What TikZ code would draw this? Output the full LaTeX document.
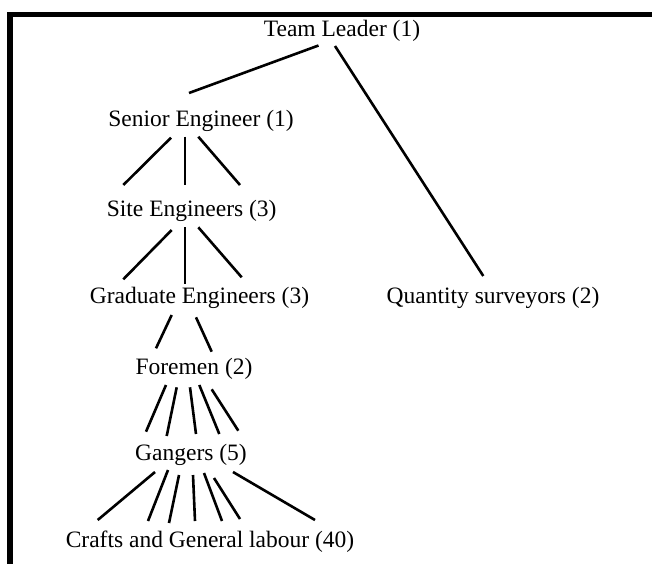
\documentclass[tikz,border=0pt]{standalone}
\usepackage{fontspec}
\setmainfont{Liberation Serif}
\usetikzlibrary{calc}

\tikzset{
  rank/.style={inner sep=0pt, anchor=base, font=\fontsize{23.5}{28}\selectfont},
  tie/.style={line width=2.6pt},
  frame/.style={line width=5.3pt, miter limit=10}
}

\begin{document}
\begin{tikzpicture}[x=1pt, y=-1pt]
                \useasboundingbox (0, 0) rectangle (652, 563);
                % Frame
                \draw [frame] (10, 570) -- (10, 14.7) -- (660, 14.7);
                % Staff
                \node [rank] (leader) at (342, 36) {Team Leader (1)};
                \node [rank] (senior) at (201, 126.7) {Senior Engineer (1)};
                \node [rank] (site) at (191.7, 216.7) {Site Engineers (3)};
                \node [rank] (grad) at (199.5, 303) {Graduate Engineers (3)};
                \node [rank] (qs) at (493, 303.3) {Quantity surveyors (2)};
                \node [rank] (foremen) at (194, 374) {Foremen (2)};
                \node [rank] (gangers) at (191, 460) {Gangers (5)};
                \node [rank] (crafts) at (210, 547) {Crafts and General labour (40)};
                % Team Leader
                \draw [tie] ($(leader.base)+(-23.5, 9.5)$) -- ($(senior.base)+(-12, -33.7)$);
                \draw [tie] ($(leader.base)+(-7, 10)$) -- ($(qs.base)+(-9.7, -27.3)$);
                % Senior Engineer
                \draw [tie] ($(senior.base)+(-30, 11)$) -- ($(site.base)+(-68.4, -31.7)$);
                \draw [tie] ($(senior.base)+(-16, 10)$) -- ($(site.base)+(-6.7, -31.7)$);
                \draw [tie] ($(senior.base)+(-2.7, 10)$) -- ($(site.base)+(48.3, -31.7)$);
                % Site Engineers
                \draw [tie] ($(site.base)+(-20, 13.3)$) -- ($(grad.base)+(-76.2, -23.7)$);
                \draw [tie] ($(site.base)+(-6.7, 10.6)$) -- ($(grad.base)+(-14.5, -18.7)$);
                \draw [tie] ($(site.base)+(6.6, 10.6)$) -- ($(grad.base)+(42.2, -25.7)$);
                % Graduate Engineers
                \draw [tie] ($(grad.base)+(-27.8, 12)$) -- ($(foremen.base)+(-38, -25.7)$);
                \draw [tie] ($(grad.base)+(-3.5, 14.3)$) -- ($(foremen.base)+(17.7, -22.3)$);
                % Foremen
                \draw [tie] ($(foremen.base)+(-28, 11)$) -- ($(gangers.base)+(-45, -28.3)$);
                \draw [tie] ($(foremen.base)+(-17.3, 13.3)$) -- ($(gangers.base)+(-24.3, -24)$);
                \draw [tie] ($(foremen.base)+(-4, 13.3)$) -- ($(gangers.base)+(5, -26)$);
                \draw [tie] ($(foremen.base)+(5.3, 11)$) -- ($(gangers.base)+(28.3, -26)$);
                \draw [tie] ($(foremen.base)+(17.7, 15.3)$) -- ($(gangers.base)+(47.3, -29.3)$);
                % Gangers
                \draw [tie] ($(gangers.base)+(-36, 12)$) -- ($(crafts.base)+(-112.3, -27)$);
                \draw [tie] ($(gangers.base)+(-23, 10)$) -- ($(crafts.base)+(-62, -26)$);
                \draw [tie] ($(gangers.base)+(-12, 15)$) -- ($(crafts.base)+(-41, -24)$);
                \draw [tie] ($(gangers.base)+(2, 15)$) -- ($(crafts.base)+(-15, -26)$);
                \draw [tie] ($(gangers.base)+(13, 13)$) -- ($(crafts.base)+(12, -26)$);
                \draw [tie] ($(gangers.base)+(23, 18)$) -- ($(crafts.base)+(30, -28)$);
                \draw [tie] ($(gangers.base)+(42, 12)$) -- ($(crafts.base)+(105, -27)$);
\end{tikzpicture}
\end{document}
